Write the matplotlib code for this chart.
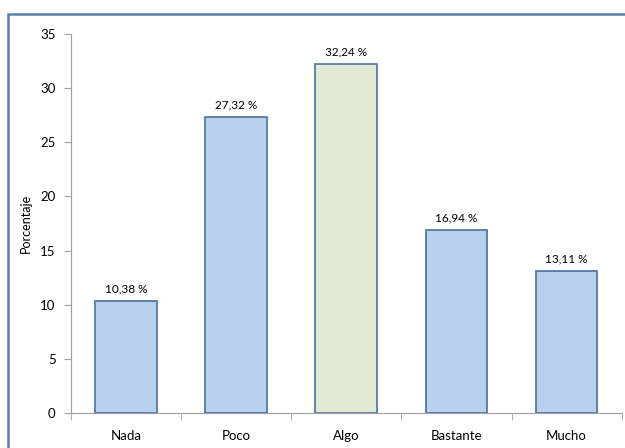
import matplotlib
matplotlib.use("Agg")
import matplotlib.pyplot as plt
from matplotlib.patches import Rectangle

categories = ["Nada", "Poco", "Algo", "Bastante", "Mucho"]
values = [10.38, 27.32, 32.24, 16.94, 13.11]
labels = ["10,38 %", "27,32 %", "32,24 %", "16,94 %", "13,11 %"]
colors = ["#b9d1ec", "#b9d1ec", "#e2ebd6", "#b9d1ec", "#b9d1ec"]

plt.rcParams['font.family'] = ['Lato', 'DejaVu Sans']

fig = plt.figure(figsize=(6.25, 4.48), dpi=100)
ax = fig.add_axes([0.1136, 0.0781, 0.881, 0.846])

x = range(len(categories))
bars = ax.bar(x, values, width=0.56, color=colors, edgecolor="#4a6f9e", linewidth=1.2, zorder=3)
for xi, v, lab in zip(x, values, labels):
    ax.text(xi, v + 0.6, lab, ha="center", va="bottom", fontsize=8.5)

ax.set_xlim(-0.5, len(categories) - 0.5)
ax.set_ylim(0, 35)
ax.set_yticks(range(0, 36, 5))
ax.set_xticks(list(x))
ax.set_xticklabels(categories, fontsize=9.5)
ax.set_xticks([i - 0.5 for i in range(len(categories) + 1)], minor=True)
ax.tick_params(axis='x', which='major', length=0, pad=12)
ax.tick_params(axis='x', which='minor', length=5, color="#a0a0a0")
ax.tick_params(axis='y', length=5, color="#a0a0a0", labelsize=9.5, pad=6)
for s in ["top", "right"]:
    ax.spines[s].set_visible(False)
for s in ["left", "bottom"]:
    ax.spines[s].set_color("#a0a0a0")
ax.set_ylabel("Porcentaje", fontsize=9, labelpad=6)

fig.patches.append(Rectangle((8/625, -0.05), 1.0, 1 - 14/448 + 0.05,
                             transform=fig.transFigure, fill=False,
                             edgecolor="#5b7fb0", linewidth=1.8))

fig.savefig("out.png", dpi=100)
